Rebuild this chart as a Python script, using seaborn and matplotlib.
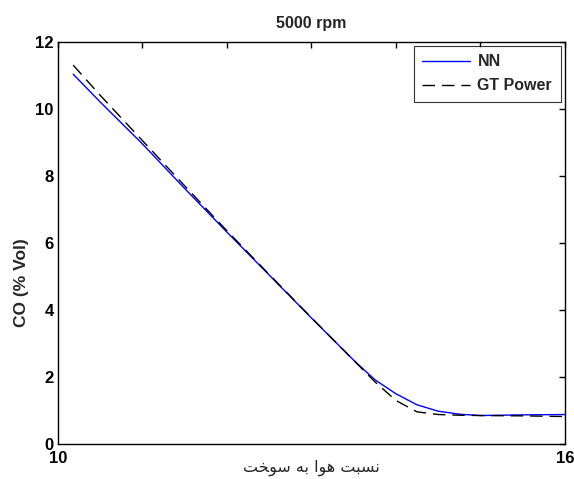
import matplotlib
matplotlib.use("Agg")
import matplotlib.pyplot as plt
import seaborn as sns
import pandas as pd

# air/fuel ratio
afr = [10.18, 10.5, 11.0, 11.5, 12.0, 12.5, 13.0, 13.5, 13.75, 14.0, 14.25, 14.5, 14.75, 15.0, 15.5, 16.0]
co_nn = [11.03, 10.20, 8.95, 7.62, 6.32, 5.04, 3.76, 2.50, 1.92, 1.50, 1.17, 0.98, 0.89, 0.85, 0.87, 0.88]
co_gt = [11.30, 10.40, 9.05, 7.70, 6.36, 5.06, 3.77, 2.50, 1.86, 1.30, 0.96, 0.88, 0.86, 0.85, 0.84, 0.82]

xticks = [10, 11, 12, 13, 14, 15, 16]
xtick_labels = ['10', '', '', '', '', '', '16']
yticks = [0, 2, 4, 6, 8, 10, 12]

# "نسبت هوا به سوخت" in shaped presentation forms, visual order
xlabel = "\ufe96\ufea8\ufeee\ufeb3 \ufeea\ufe91 \ufe8d\ufeee\ufeeb \ufe96\ufe92\ufeb4\ufee7"

df = pd.DataFrame({'afr': afr, 'NN': co_nn, 'GT Power': co_gt})

sns.set_style("white")
plt.rcParams['font.family'] = ['Liberation Sans', 'DejaVu Sans']

fig = plt.figure(figsize=(5.74, 4.79), dpi=100)
ax = fig.add_axes([0.101, 0.073, 0.883, 0.840])

sns.lineplot(data=df, x='afr', y='NN', ax=ax, color='#0000ff', lw=1.0, label='NN')
sns.lineplot(data=df, x='afr', y='GT Power', ax=ax, color='black', lw=1.0,
             label='GT Power', dashes=False)
ax.lines[1].set_dashes([9, 5])

ax.set_xlim(10, 16)
ax.set_ylim(0, 12)
ax.set_xticks(xticks)
ax.set_xticklabels(xtick_labels)
ax.set_yticks(yticks)
ax.tick_params(direction='in', length=4, width=1, top=True, right=True,
               labelsize=12, colors='black')
ax.tick_params(axis='y', pad=3)
ax.tick_params(axis='x', pad=5)
for lab in ax.get_xticklabels() + ax.get_yticklabels():
    lab.set_fontweight('bold')
for s in ax.spines.values():
    s.set_color('black')
    s.set_linewidth(1.0)

ax.set_title('5000 rpm', fontsize=11.5, fontweight='bold', pad=10)
ax.set_ylabel('CO (% Vol)', fontsize=12.5, fontweight='bold')
ax.yaxis.set_label_coords(-0.058, 0.40)
ax.set_xlabel(xlabel, fontsize=11.5, family=['DejaVu Sans'], va='center')
ax.xaxis.set_label_coords(0.5, -0.058)

leg = ax.legend(loc='upper right', prop={'weight': 'bold', 'size': 11.5},
                frameon=True, fancybox=False, handlelength=3.0, handletextpad=0.45,
                borderaxespad=0.25, borderpad=0.55, labelspacing=0.55)
leg.get_frame().set_edgecolor('black')
leg.get_frame().set_linewidth(0.8)

fig.savefig('out.png', dpi=100)
